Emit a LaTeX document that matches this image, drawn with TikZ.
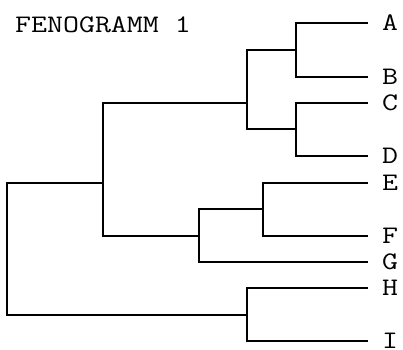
\documentclass[tikz,border=0pt]{standalone}
\newcommand{\monotext}[1]{\scalebox{1.23}[1]{\fontsize{25.2}{25.2}\selectfont\ttfamily #1}}
\begin{document}
\begin{tikzpicture}[x=1pt,y=-1pt,
  branch/.style={line width=2pt,line join=miter,line cap=rect,black},
  leaf/.style={anchor=west,inner xsep=15pt,inner ysep=0pt,outer sep=0pt,
    text height=15.4pt,text depth=0pt},
  title/.style={anchor=base west,inner sep=0pt}]
\useasboundingbox (0,0) rectangle (403,349);

\node[title] (ttl) at (15,32.7) {\monotext{FENOGRAMM 1}};

% taxa
\node[leaf] (A) at (367,23)    {\monotext{A}};
\node[leaf] (B) at (367,76.7)  {\monotext{B}};
\node[leaf] (C) at (367,103)   {\monotext{C}};
\node[leaf] (D) at (367,155.7) {\monotext{D}};
\node[leaf] (E) at (367,183)   {\monotext{E}};
\node[leaf] (F) at (367,236)   {\monotext{F}};
\node[leaf] (G) at (367,262)   {\monotext{G}};
\node[leaf] (H) at (367,288)   {\monotext{H}};
\node[leaf] (I) at (367,340.5) {\monotext{I}};

% internal nodes: vertical position of the branch, height where the parent attaches
\coordinate (ab)   at (295.7,50);
\coordinate (cd)   at (295.7,129.3);
\coordinate (abcd) at (247.3,103);
\coordinate (ef)   at (263.3,209);
\coordinate (efg)  at (199.3,236);
\coordinate (atog) at (103,182.7);
\coordinate (hi)   at (247.3,315);
\coordinate (root) at (7,250);

\draw[branch] (ab) |- (A.west);
\draw[branch] (ab) |- (B.west);
\draw[branch] (cd) |- (C.west);
\draw[branch] (cd) |- (D.west);
\draw[branch] (abcd) |- (ab);
\draw[branch] (abcd) |- (cd);
\draw[branch] (ef) |- (E.west);
\draw[branch] (ef) |- (F.west);
\draw[branch] (efg) |- (ef);
\draw[branch] (efg) |- (G.west);
\draw[branch] (atog) |- (abcd);
\draw[branch] (atog) |- (efg);
\draw[branch] (hi) |- (H.west);
\draw[branch] (hi) |- (I.west);
\draw[branch] (root) |- (atog);
\draw[branch] (root) |- (hi);
\end{tikzpicture}
\end{document}
